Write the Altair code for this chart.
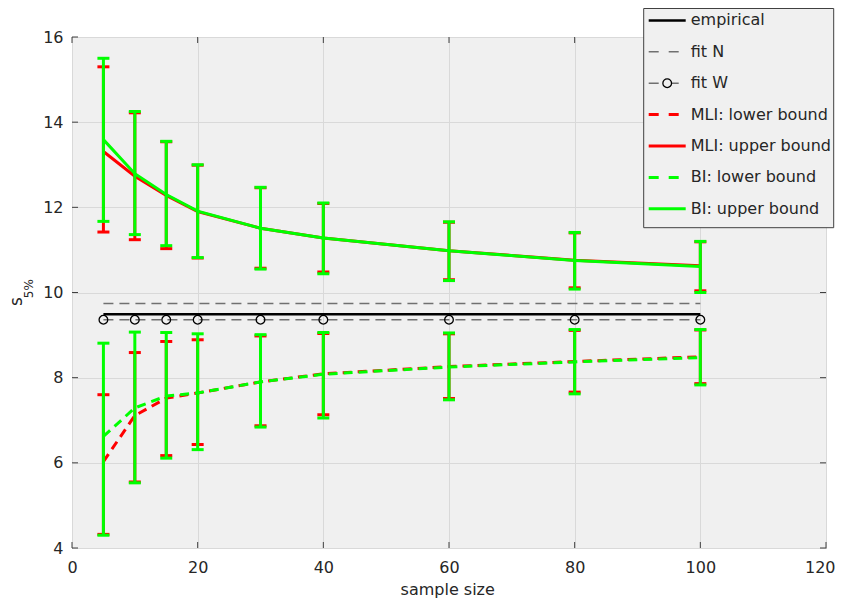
import altair as alt
import pandas as pd

# ---------------- data ----------------
n = [5, 10, 15, 20, 30, 40, 60, 80, 100]

mli_up    = [13.31, 12.73, 12.28, 11.90, 11.51, 11.28, 10.98, 10.76, 10.63]
mli_up_hi = [15.30, 14.22, 13.54, 12.99, 12.46, 12.09, 11.65, 11.40, 11.19]
mli_up_lo = [11.42, 11.24, 11.03, 10.81, 10.57, 10.48, 10.30, 10.11, 10.04]

bi_up     = [13.59, 12.79, 12.30, 11.91, 11.51, 11.28, 10.98, 10.75, 10.61]
bi_up_hi  = [15.50, 14.25, 13.55, 13.00, 12.47, 12.10, 11.66, 11.41, 11.20]
bi_up_lo  = [11.67, 11.36, 11.10, 10.82, 10.55, 10.44, 10.28, 10.08, 10.00]

mli_lo    = [6.03, 7.11, 7.52, 7.64, 7.90, 8.09, 8.26, 8.38, 8.49]
mli_lo_hi = [7.60, 8.59, 8.85, 8.89, 8.98, 9.04, 9.03, 9.11, 9.12]
mli_lo_lo = [4.32, 5.55, 6.17, 6.43, 6.87, 7.13, 7.51, 7.66, 7.86]

bi_lo     = [6.62, 7.29, 7.57, 7.64, 7.90, 8.08, 8.25, 8.37, 8.47]
bi_lo_hi  = [8.81, 9.07, 9.06, 9.03, 9.01, 9.06, 9.05, 9.13, 9.13]
bi_lo_lo  = [4.30, 5.53, 6.11, 6.31, 6.84, 7.05, 7.48, 7.62, 7.83]

empirical = 9.49
fit_n = 9.74
fit_w = 9.36
flat_range = [5, 100]

x_ticks = [0, 20, 40, 60, 80, 100, 120]
y_ticks = [4, 6, 8, 10, 12, 14, 16]

legend_labels = ["empirical", "fit N", "fit W", "MLI: lower bound",
                 "MLI: upper bound", "BI: lower bound", "BI: upper bound"]

# ---------------- styling ----------------
W, H = 754, 511
FONT = "DejaVu Sans"
TXT = "#262626"
AX = "#404040"
BG = "#f0f0f0"
RED = "#ff0000"
GREEN = "#00ff00"
GRAY = "#707070"

xs = alt.Scale(domain=[0, 120], nice=False, zero=False)
ys = alt.Scale(domain=[4, 16], nice=False, zero=False)

x_axis = alt.Axis(values=x_ticks, grid=True, gridColor="#d9d9d9", gridWidth=1,
                  domain=False, ticks=False, tickSize=0, labelFont=FONT,
                  labelFontSize=16, labelColor=TXT, labelPadding=11,
                  labelFlush=False, labelOverlap=False, title=None, format="d",
                  labelAlign={"condition": {"test": "datum.value == 120", "value": "right"},
                              "value": "center"},
                  labelOffset={"condition": {"test": "datum.value == 120", "value": 9},
                               "value": 0})
y_axis = alt.Axis(values=y_ticks, grid=True, gridColor="#d9d9d9", gridWidth=1,
                  domain=False, ticks=False, tickSize=0, labelFont=FONT,
                  labelFontSize=16, labelColor=TXT, labelPadding=9,
                  labelFlush=False, labelOverlap=False, title=None, format="d")

X = alt.X("n:Q", scale=xs, axis=x_axis)
Y = alt.Y("v:Q", scale=ys, axis=y_axis)


def flat(v):
    return pd.DataFrame({"n": flat_range, "v": [v, v]})


layers = []

# axes carrier (grid + labels)
base = alt.Chart(pd.DataFrame({"n": x_ticks, "v": y_ticks})).mark_point(opacity=0).encode(x=X, y=Y)
layers.append(base)

# horizontal reference lines
layers.append(alt.Chart(flat(empirical)).mark_line(color="black", strokeWidth=2.5).encode(x=X, y=Y))
layers.append(alt.Chart(flat(fit_n)).mark_line(color=GRAY, strokeWidth=1.5, strokeDash=[10, 6]).encode(x=X, y=Y))
layers.append(alt.Chart(flat(fit_w)).mark_line(color=GRAY, strokeWidth=1.5, strokeDash=[10, 6]).encode(x=X, y=Y))
layers.append(alt.Chart(pd.DataFrame({"n": n, "v": [fit_w] * len(n)}))
              .mark_point(shape="circle", filled=False, color="black", size=75, strokeWidth=1.3, opacity=1)
              .encode(x=X, y=Y))


def errorbar_series(mid, hi, lo, color, dashed):
    df = pd.DataFrame({"n": n, "v": mid, "hi": hi, "lo": lo})
    line_kw = dict(color=color, strokeWidth=3)
    if dashed:
        line_kw["strokeDash"] = [9, 6]
    out = [
        alt.Chart(df).mark_line(**line_kw).encode(x=X, y=Y),
        alt.Chart(df).mark_rule(color=color, strokeWidth=3).encode(x=X, y=alt.Y("lo:Q", scale=ys), y2="hi:Q"),
        alt.Chart(df).mark_tick(color=color, orient="horizontal", size=12, thickness=3, opacity=1)
        .encode(x=X, y=alt.Y("hi:Q", scale=ys)),
        alt.Chart(df).mark_tick(color=color, orient="horizontal", size=12, thickness=3, opacity=1)
        .encode(x=X, y=alt.Y("lo:Q", scale=ys)),
    ]
    return out


layers += errorbar_series(mli_lo, mli_lo_hi, mli_lo_lo, RED, True)
layers += errorbar_series(mli_up, mli_up_hi, mli_up_lo, RED, False)
layers += errorbar_series(bi_lo, bi_lo_hi, bi_lo_lo, GREEN, True)
layers += errorbar_series(bi_up, bi_up_hi, bi_up_lo, GREEN, False)

# inward tick marks on all four sides
xt = pd.DataFrame({"n": x_ticks})
yt = pd.DataFrame({"v": y_ticks})
layers.append(alt.Chart(xt).mark_rule(color=AX, strokeWidth=1)
              .encode(x=alt.X("n:Q", scale=xs), y=alt.value(H), y2=alt.value(H - 6)))
layers.append(alt.Chart(xt).mark_rule(color=AX, strokeWidth=1)
              .encode(x=alt.X("n:Q", scale=xs), y=alt.value(0), y2=alt.value(6)))
layers.append(alt.Chart(yt).mark_rule(color=AX, strokeWidth=1)
              .encode(y=alt.Y("v:Q", scale=ys), x=alt.value(0), x2=alt.value(6)))
layers.append(alt.Chart(yt).mark_rule(color=AX, strokeWidth=1)
              .encode(y=alt.Y("v:Q", scale=ys), x=alt.value(W), x2=alt.value(W - 6)))

# axis titles
dummy = pd.DataFrame({"d": [0]})
layers.append(alt.Chart(dummy).mark_text(text="sample size", font=FONT, fontSize=16, color=TXT,
                                         align="center", baseline="middle")
              .encode(x=alt.value(375.7), y=alt.value(552.5)))
layers.append(alt.Chart(dummy).mark_text(text="s", font=FONT, fontSize=17, color=TXT, angle=270,
                                         align="center", baseline="middle")
              .encode(x=alt.value(-55), y=alt.value(264.7)))
layers.append(alt.Chart(dummy).mark_text(text="5%", font=FONT, fontSize=12, color=TXT, angle=270,
                                         align="center", baseline="middle")
              .encode(x=alt.value(-43), y=alt.value(251.7)))

# legend
LX0, LX1, LY0, LY1 = 571.7, 761.7, -28.5, 190.7
layers.append(alt.Chart(dummy).mark_rect(fill=BG, stroke=AX, strokeWidth=1)
              .encode(x=alt.value(LX0), x2=alt.value(LX1), y=alt.value(LY0), y2=alt.value(LY1)))
leg_styles = [
    dict(color="black", strokeWidth=2.5),
    dict(color=GRAY, strokeWidth=1.5, strokeDash=[10, 10]),
    dict(color=GRAY, strokeWidth=1.5, strokeDash=[10, 10]),
    dict(color=RED, strokeWidth=3, strokeDash=[10, 10]),
    dict(color=RED, strokeWidth=3),
    dict(color=GREEN, strokeWidth=3, strokeDash=[10, 10]),
    dict(color=GREEN, strokeWidth=3),
]
for i, (lab, st) in enumerate(zip(legend_labels, leg_styles)):
    yy = -16.6 + 31.4 * i
    layers.append(alt.Chart(dummy).mark_rule(**st)
                  .encode(x=alt.value(576.7), x2=alt.value(613.7), y=alt.value(yy)))
    if lab == "fit W":
        layers.append(alt.Chart(dummy).mark_point(shape="circle", filled=False, fill=BG, color="black",
                                                  size=75, strokeWidth=1.3, opacity=1)
                      .encode(x=alt.value(595.2), y=alt.value(yy)))
    layers.append(alt.Chart(dummy).mark_text(text=lab, font=FONT, fontSize=16, color=TXT,
                                             align="left", baseline="middle")
                  .encode(x=alt.value(618.7), y=alt.value(yy)))

chart = alt.layer(*layers).properties(
    width=W, height=H,
    autosize=alt.AutoSizeParams(type="none"),
    padding={"left": 64, "top": 29, "right": 10, "bottom": 51},
    background="white",
).configure_view(stroke=AX, strokeWidth=1, fill=BG)

chart.save("out.html", embed_options={"renderer": "svg", "actions": False})
